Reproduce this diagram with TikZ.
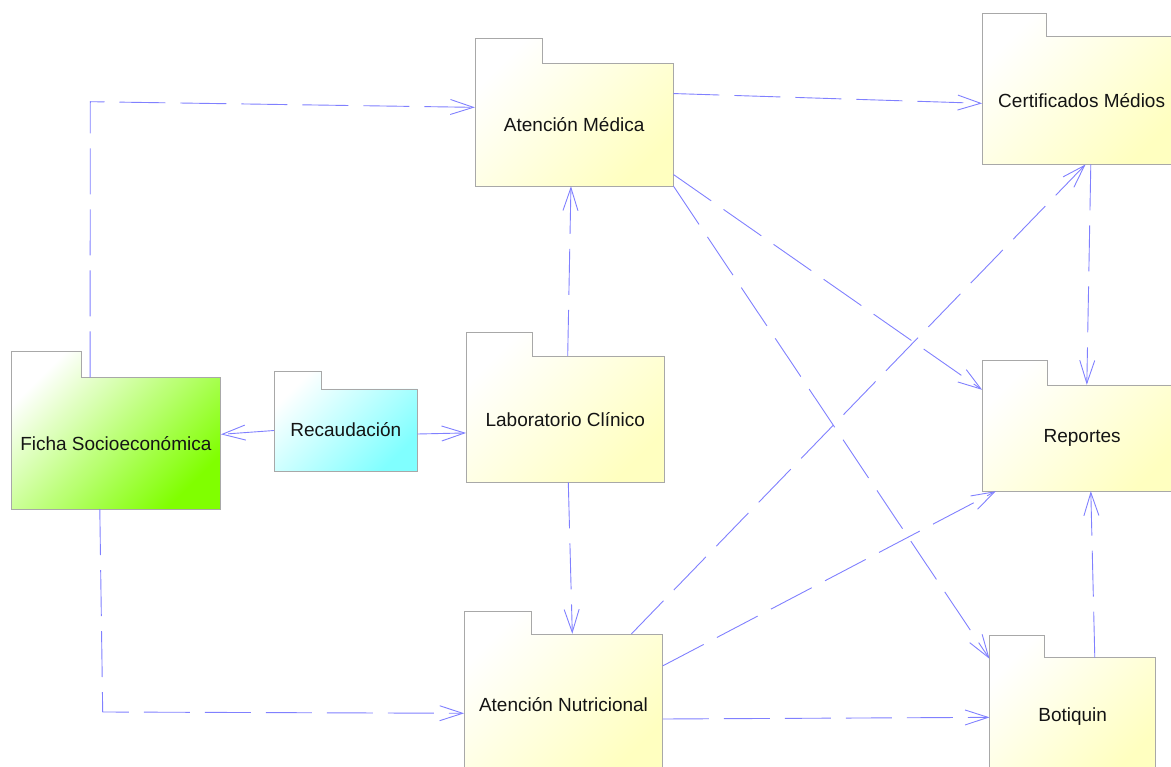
\documentclass[tikz,border=0pt]{standalone}
\usepackage{fontspec}
\setmainfont{Liberation Sans}
\usetikzlibrary{arrows.meta}

\definecolor{pkgline}{HTML}{A8A8A8}
\definecolor{deplink}{HTML}{8080FF}
\definecolor{pkgyellow}{HTML}{FFFFC0}
\definecolor{pkggreen}{HTML}{80FF00}
\definecolor{pkgcyan}{HTML}{80FFFF}

\tikzset{
  pkgoutline/.style={draw=pkgline, line width=0.9pt, line join=miter},
  pkglabel/.style={inner sep=0pt, font=\fontsize{19}{23}\selectfont, text=black!92},
  dep/.style={draw=deplink, line width=0.9pt, dash pattern=on 46pt off 15pt,
    -{Straight Barb[length=23pt,width=15pt]}},
}

% UML package: name, left, tab top, tab right, body top, right, bottom, fill colour, label
\newcommand\umlpackage[9]{%
  \shade[pkgoutline, top color=white, bottom color=#8, shading angle=45]
    (#2,#3) -- (#4,#3) -- (#4,#5) -- (#6,#5) -- (#6,#7) -- (#2,#7) -- cycle;
  \node[pkglabel, minimum width={(#6-#2)*1pt}, minimum height={(#7-#5)*1pt}]
    (#1) at ({(#2+#6)/2},{(#5+#7)/2}) {#9};
}

\begin{document}
\begin{tikzpicture}[x=1pt, y=-1pt]
\useasboundingbox (0,0) rectangle (1171,767);
\clip (0,0) rectangle (1171,767);

% packages
\umlpackage{ficha}{11}{351}{81.7}{377.7}{220.7}{509}{pkggreen}{Ficha Socioeconómica}
\umlpackage{recaud}{274.3}{371}{321.7}{389}{417.3}{471}{pkgcyan}{Recaudación}
\umlpackage{medica}{475}{38.3}{542.3}{63.3}{673.3}{186}{pkgyellow}{Atención Médica}
\umlpackage{lab}{466.3}{332.7}{532.7}{356}{664.3}{482.3}{pkgyellow}{Laboratorio Clínico}
\umlpackage{nutri}{464.3}{611}{531}{634}{662.7}{776}{pkgyellow}{Atención Nutricional}
\umlpackage{cert}{982.3}{13.3}{1046.5}{36}{1181}{164.3}{pkgyellow}{Certificados Médios}
\umlpackage{rep}{982.3}{360}{1047.7}{385}{1182}{491}{pkgyellow}{Reportes}
\umlpackage{botiq}{989.7}{635.7}{1044}{657.7}{1155.7}{776}{pkgyellow}{Botiquin}

% bend points of the two routed dependencies
\coordinate (fmbend) at (90.3,101.7);
\coordinate (fnbend) at (102.7,712);

% dependencies
\draw[dep] ([xshift=79.3pt]ficha.north west) -- (fmbend) -- ([yshift=17.3pt]medica.west);
\draw[dep] ([xshift=89pt]ficha.south west) -- (fnbend) -- ([yshift=-8.3pt]nutri.west);
\draw[dep] ([yshift=-0.5pt]recaud.west) -- ([yshift=9pt]ficha.east);
\draw[dep] ([yshift=-4pt]recaud.east) -- ([yshift=-13.8pt]lab.west);
\draw[dep] ([xshift=2.4pt]lab.north) -- ([xshift=-3.2pt]medica.south);
\draw[dep] ([xshift=3pt]lab.south) -- ([xshift=8.8pt]nutri.north);
\draw[dep] ([yshift=31.1pt]medica.east) -- ([yshift=-3.2pt]cert.west);
\draw[dep] ([yshift=-49.9pt]medica.east) -- ([yshift=-5pt]rep.north west);
\draw[dep] (medica.south east) -- ([yshift=-1.3pt]botiq.north west);
\draw[dep] ([xshift=167.4pt]nutri.north west) -- ([xshift=103.4pt]cert.south west);
\draw[dep] ([yshift=-32pt]nutri.north east) -- ([xshift=13.7pt]rep.south west);
\draw[dep] ([yshift=-14pt]nutri.east) -- ([yshift=-0.5pt]botiq.west);
\draw[dep] ([xshift=108.7pt]cert.south west) -- ([xshift=104.7pt]rep.north west);
\draw[dep] ([xshift=105.3pt]botiq.north west) -- ([xshift=108.7pt]rep.south west);
\end{tikzpicture}
\end{document}
